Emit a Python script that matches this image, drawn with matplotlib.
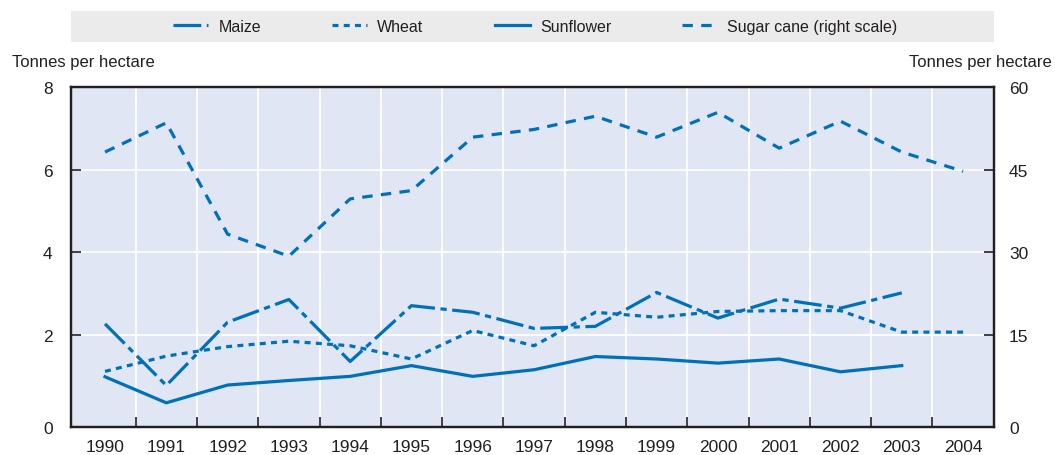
import matplotlib
matplotlib.use("Agg")
import matplotlib.pyplot as plt
from matplotlib.patches import Rectangle

plt.rcParams['font.family'] = ['Liberation Sans', 'DejaVu Sans']
plt.rcParams['lines.scale_dashes'] = False

years = ['1990', '1991', '1992', '1993', '1994', '1995', '1996', '1997',
         '1998', '1999', '2000', '2001', '2002', '2003', '2004']
maize = [2.27, 0.78, 2.31, 2.86, 1.36, 2.71, 2.55, 2.16, 2.21, 3.03, 2.41, 2.87, 2.65, 3.02]
wheat = [1.12, 1.49, 1.72, 1.85, 1.74, 1.42, 2.11, 1.74, 2.55, 2.43, 2.57, 2.59, 2.59, 2.07, 2.07]
sunflower = [0.99, 0.36, 0.79, 0.90, 1.00, 1.26, 1.00, 1.16, 1.48, 1.42, 1.32, 1.42, 1.11, 1.26]
sugar_cane = [48.2, 53.5, 33.3, 29.3, 39.7, 41.2, 50.9, 52.3, 54.7, 50.9, 55.4, 48.9, 53.8, 48.2, 44.7]

left_ticks = [2, 4, 6, 8]
right_ticks = [15, 30, 45, 60]

BLUE = '#0070b8'
DARK = '#231f20'
BG = '#e0e6f3'
LW = 2.3

W, H = 1055, 456
fig = plt.figure(figsize=(W / 100, H / 100), dpi=100)
ax = fig.add_axes([70.7 / W, 1 - 428 / H, (993.7 - 70.7) / W, (428 - 88) / H])
ax.set_facecolor(BG)

x = list(range(len(years)))
ybot = -0.225
ax.set_xlim(-0.56, len(years) - 0.5)
ax.set_ylim(ybot, 8)

# grid
for i in range(len(years) - 1):
    ax.axvline(i + 0.5, color='white', lw=1.3, zorder=1)
for v in left_ticks[:-1]:
    ax.axhline(v, color='white', lw=1.3, zorder=1)

l_maize, = ax.plot(x[:len(maize)], maize, color=BLUE, lw=LW, dashes=(20, 4, 4.5, 4), zorder=3)
l_wheat, = ax.plot(x, wheat, color=BLUE, lw=LW, dashes=(4.3, 3.8), zorder=3)
l_sun, = ax.plot(x[:len(sunflower)], sunflower, color=BLUE, lw=LW, zorder=3)

ax.set_xticks([i + 0.5 for i in range(len(years) - 1)])
ax.set_xticklabels([])
ax.set_xticks(x, minor=True)
ax.set_xticklabels(years, minor=True)
ax.tick_params(axis='x', which='major', direction='in', length=7, width=1.2, color=DARK)
ax.tick_params(axis='x', which='minor', length=0, pad=9, labelsize=12.5, labelcolor=DARK)

ax.set_yticks([ybot] + left_ticks)
ax.set_yticklabels(['0'] + [str(t) for t in left_ticks])
ax.tick_params(axis='y', direction='in', length=7, width=1.2, color=DARK, pad=13,
               labelsize=12.5, labelcolor=DARK)

for s in ax.spines.values():
    s.set_color(DARK)
    s.set_linewidth(1.6)

ax2 = ax.twinx()
ax2.set_ylim(ybot * 7.5, 60)
l_sugar, = ax2.plot(x, sugar_cane, color=BLUE, lw=LW, dashes=(7.5, 6), zorder=3)
ax2.set_yticks([ybot * 7.5] + right_ticks)
ax2.set_yticklabels(['0'] + [str(t) for t in right_ticks])
ax2.tick_params(axis='y', direction='in', length=7, width=1.2, color=DARK, pad=11,
                labelsize=12.5, labelcolor=DARK)
for s in ax2.spines.values():
    s.set_color(DARK)
    s.set_linewidth(1.6)

fig.text(12 / W, 1 - 63 / H, 'Tonnes per hectare', ha='left', va='center',
         fontsize=12, color=DARK)
fig.text(1052 / W, 1 - 63 / H, 'Tonnes per hectare', ha='right', va='center',
         fontsize=12, color=DARK)

# legend box
fig.patches.append(Rectangle((70.7 / W, 1 - 42.7 / H), (993.7 - 70.7) / W, 30.7 / H,
                             transform=fig.transFigure, facecolor='#ebebeb',
                             edgecolor='none', zorder=0))
leg = fig.legend([l_maize, l_wheat, l_sun, l_sugar],
                 ['Maize', 'Wheat', 'Sunflower', 'Sugar cane (right scale)'],
                 loc='center', bbox_to_anchor=(535.5 / W, 1 - 27.3 / H), ncol=4,
                 frameon=False, fontsize=11.5, handlelength=2.2, handletextpad=0.63,
                 columnspacing=4.45, labelcolor=DARK)

fig.savefig('out.png', dpi=100)
